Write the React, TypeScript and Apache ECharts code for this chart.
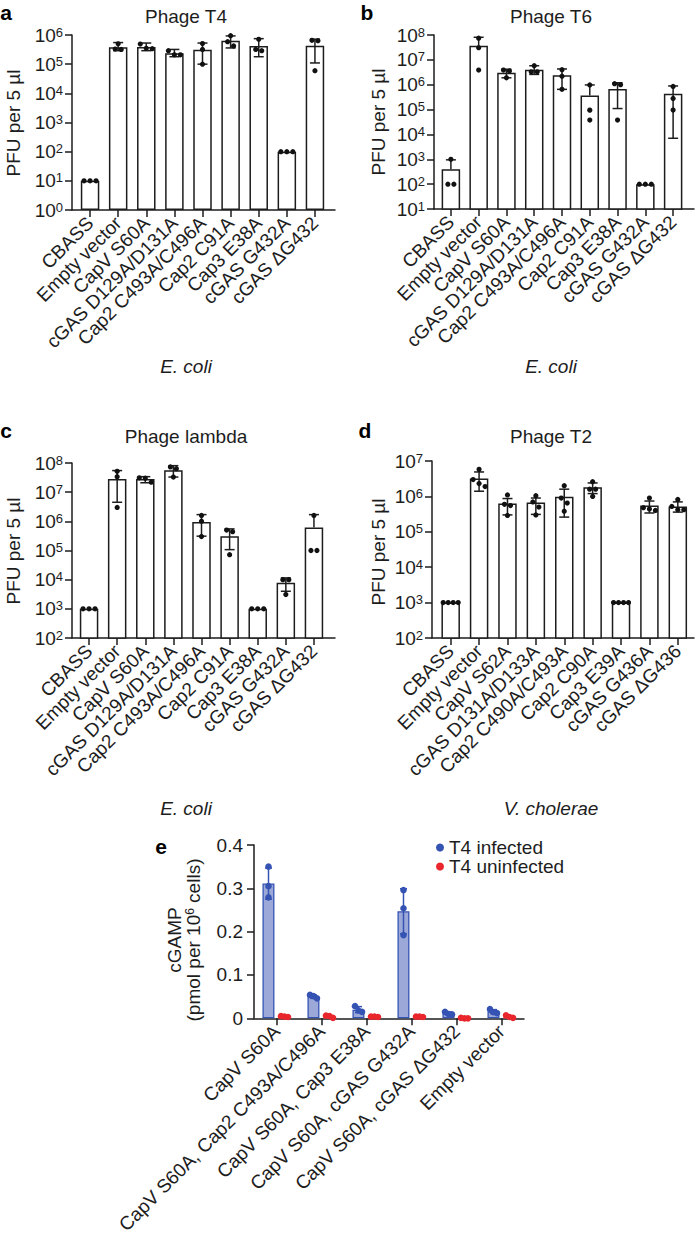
import React, { useEffect, useRef } from "react";
import * as echarts from "echarts";

const FONT = "'Liberation Sans', Arial, Helvetica, sans-serif";
const INK = "#1d1d1d";
const FS = 19;

// ---------------- Panel a : Phage T4, E. coli ----------------
const catsA = ["CBASS", "Empty vector", "CapV S60A", "cGAS D129A/D131A", "Cap2 C493A/C496A", "Cap2 C91A", "Cap3 E38A", "cGAS G432A", "cGAS \u0394G432"];
const meanA = [10, 3.8e5, 3.9e5, 2.35e5, 3.1e5, 6.4e5, 4.2e5, 100, 4.3e5];
const errHiA = [10, 5.5e5, 5.3e5, 3.2e5, 5.3e5, 9.3e5, 7.5e5, 100, 7.2e5];
const errLoA = [10, 2.9e5, 2.9e5, 1.8e5, 1.0e5, 3.6e5, 1.8e5, 100, 1.1e5];
const dotsA = [
  [10, 10, 10],
  [5.0e5, 3.2e5, 3.3e5],
  [4.9e5, 3.4e5, 3.5e5],
  [2.9e5, 2.1e5, 2.1e5],
  [5.1e5, 3.2e5, 1.0e5],
  [9.5e5, 5.9e5, 4.2e5],
  [7.1e5, 2.9e5, 3.2e5],
  [100, 100, 100],
  [6.4e5, 6.6e5, 6.0e4],
];

// ---------------- Panel b : Phage T6, E. coli ----------------
const catsB = catsA;
const meanB = [4.0e2, 3.7e7, 3.0e6, 4.0e6, 2.4e6, 3.7e5, 6.8e5, 100, 4.3e5];
const errHiB = [9.5e2, 8.1e7, 4.2e6, 5.8e6, 4.3e6, 9.8e5, 1.2e6, 100, 8.9e5];
const errLoB = [null, null, 1.9e6, 2.6e6, 6.5e5, null, 1.1e5, 100, 7.0e3];
const dotsB = [
  [1000, 100, 100],
  [7.4e7, 3.1e7, 3.9e6],
  [3.9e6, 3.6e6, 1.9e6],
  [5.8e6, 3.3e6, 3.3e6],
  [4.0e6, 2.2e6, 6.5e5],
  [9.8e5, 9.5e4, 3.8e4],
  [1.1e6, 1.0e6, 3.8e4],
  [100, 100, 100],
  [8.5e5, 2.8e5, 9.6e4],
];

// ---------------- Panel c : Phage lambda, E. coli ----------------
const catsC = catsA;
const meanC = [1000, 2.8e7, 2.8e7, 5.6e7, 9.5e5, 3.1e5, 1000, 7.8e3, 6.1e5];
const errHiC = [1000, 5.5e7, 3.4e7, 8.1e7, 1.7e6, 5.5e5, 1000, 1.15e4, 1.7e6];
const errLoC = [1000, 4.5e6, 2.1e7, 3.3e7, 3.1e5, 1.07e5, 1000, 4.0e3, null];
const dotsC = [
  [1000, 1000, 1000],
  [5.2e7, 3.4e7, 3.0e6],
  [3.1e7, 3.0e7, 2.2e7],
  [7.3e7, 6.4e7, 3.3e7],
  [1.6e6, 1.0e6, 3.0e5],
  [5.0e5, 4.4e5, 7.2e4],
  [1000, 1000, 1000],
  [1.0e4, 1.0e4, 3.1e3],
  [1.6e6, 1.0e5, 1.0e5],
];

// ---------------- Panel d : Phage T2, V. cholerae ----------------
const catsD = ["CBASS", "Empty vector", "CapV S62A", "cGAS D131A/D133A", "Cap2 C490A/C493A", "Cap2 C90A", "Cap3 E39A", "cGAS G436A", "cGAS \u0394G436"];
const meanD = [1000, 3.2e6, 6.3e5, 6.7e5, 9.7e5, 1.8e6, 1000, 5.5e5, 5.2e5];
const errHiD = [1000, 4.9e6, 8.7e5, 9.0e5, 1.6e6, 2.4e6, 1000, 7.4e5, 7.0e5];
const errLoD = [1000, 1.4e6, 3.0e5, 3.1e5, 2.6e5, 1.2e6, 1000, 3.4e5, 3.6e5];
const dotsD = [
  [1000, 1000, 1000, 1000],
  [5.8e6, 3.0e6, 2.3e6, 1.9e6],
  [1.1e6, 6.0e5, 5.5e5, 2.9e5],
  [1.05e6, 7.0e5, 5.0e5, 3.0e5],
  [2.0e6, 9.0e5, 6.5e5, 3.8e5],
  [2.6e6, 1.6e6, 1.6e6, 1.0e6],
  [1000, 1000, 1000, 1000],
  [9.0e5, 4.8e5, 4.4e5, 4.0e5],
  [8.2e5, 5.2e5, 4.2e5, 4.2e5],
];

// ---------------- Panel e : cGAMP ----------------
const catsE = ["CapV S60A", "CapV S60A, Cap2 C493A/C496A", "CapV S60A, Cap3 E38A", "CapV S60A, cGAS G432A", "CapV S60A, cGAS \u0394G432", "Empty vector"];
const infMean = [0.311, 0.05, 0.02, 0.247, 0.011, 0.016];
const infErrHi = [0.347, 0.054, 0.027, 0.299, 0.014, 0.02];
const infErrLo = [0.275, 0.046, 0.013, 0.195, 0.008, 0.011];
const infDots = [
  [0.35, 0.305, 0.279],
  [0.046, 0.054, 0.051],
  [0.015, 0.028, 0.018],
  [0.296, 0.254, 0.192],
  [0.015, 0.009, 0.01],
  [0.021, 0.012, 0.014],
];
const uninfMean = [0.004, 0.004, 0.004, 0.004, 0.0005, 0.004];
const uninfDots = [
  [0.003, 0.004, 0.005],
  [0.001, 0.005, 0.006],
  [0.004, 0.004, 0.003],
  [0.003, 0.004, 0.004],
  [0.0, 0.0, 0.001],
  [0.001, 0.007, 0.003],
];
const yTicksE = [0, 0.1, 0.2, 0.3, 0.4];

const BLUE = "#3553b3";
const BLUE_FILL = "#9ca9d8";
const RED = "#e8262c";

function jitter(ys: number[], thr: number, maxStep: number, span: number): number[] {
  const idx = ys.map((_, k) => k).sort((a, b) => ys[a] - ys[b]);
  const offs = new Array(ys.length).fill(0);
  let start = 0;
  for (let k = 1; k <= idx.length; k++) {
    if (k === idx.length || ys[idx[k]] - ys[idx[k - 1]] > thr) {
      const n = k - start;
      const step = n > 1 ? Math.min(maxStep, span / (n - 1)) : 0;
      for (let j = 0; j < n; j++) offs[idx[start + j]] = (j - (n - 1) / 2) * step;
      start = k;
    }
  }
  return offs;
}

function errSeries(xi: number, yi: number, means: number[], hi: (number | null)[], lo: (number | null)[], dx: number, halfCap: number, color: string, width: number) {
  return {
    type: "custom",
    xAxisIndex: xi,
    yAxisIndex: yi,
    z: 5,
    silent: true,
    data: means.map((m, i) => [i, m]),
    renderItem: (params: any, api: any) => {
      const i = params.dataIndex;
      const h = hi[i];
      const l = lo[i];
      const m = means[i];
      if (h == null || h === l) return { type: "group", children: [] };
      const pTop = api.coord([i, h]);
      const x = pTop[0] + dx;
      const yTop = pTop[1];
      const yMid = api.coord([i, m])[1];
      const yBot = l != null ? api.coord([i, l])[1] : yMid;
      const st = { stroke: color, lineWidth: width, fill: null };
      const ch: any[] = [
        { type: "line", shape: { x1: x, y1: yTop, x2: x, y2: yBot }, style: st },
        { type: "line", shape: { x1: x - halfCap, y1: yTop, x2: x + halfCap, y2: yTop }, style: st },
      ];
      if (l != null) ch.push({ type: "line", shape: { x1: x - halfCap, y1: yBot, x2: x + halfCap, y2: yBot }, style: st });
      return { type: "group", children: ch };
    },
  };
}

function dotSeries(xi: number, yi: number, dots: number[][], dx: number, r: number, color: string, maxStep: number, span: number, name?: string) {
  return {
    type: "custom",
    name,
    xAxisIndex: xi,
    yAxisIndex: yi,
    z: 6,
    silent: true,
    itemStyle: { color },
    data: dots.map((d, i) => [i, d[0]]),
    renderItem: (params: any, api: any) => {
      const i = params.dataIndex;
      const pts = dots[i].map((v) => api.coord([i, v]));
      const offs = jitter(pts.map((p: number[]) => p[1]), r * 2, maxStep, span);
      return {
        type: "group",
        children: pts.map((p: number[], k: number) => ({
          type: "circle",
          shape: { cx: p[0] + dx + offs[k], cy: p[1], r },
          style: { fill: color },
        })),
      };
    },
  };
}

type Layout = { left: number; top: number; width: number; height: number; yAxisX: number; axisEnd: number };

const layoutA: Layout = { left: 76, top: 35, width: 253, height: 175, yAxisX: 72, axisEnd: 335 };
const layoutB: Layout = { left: 437, top: 35, width: 250, height: 174, yAxisX: 434, axisEnd: 694 };
const layoutC: Layout = { left: 75, top: 463, width: 253, height: 175, yAxisX: 72, axisEnd: 335 };
const layoutD: Layout = { left: 436.5, top: 461, width: 255.5, height: 177, yAxisX: 432, axisEnd: 694 };

function buildOption() {
  const grid: any[] = [];
  const xAxis: any[] = [];
  const yAxis: any[] = [];
  const series: any[] = [];
  const lineStyle = { color: INK, width: 1.5 };

  const addLogPanel = (L: Layout, cats: string[], mean: number[], hi: any[], lo: any[], dots: number[][], min: number, max: number) => {
    const gi = grid.length;
    grid.push({ left: L.left, top: L.top, width: L.width, height: L.height });
    const xi = xAxis.length;
    xAxis.push({
      type: "category",
      gridIndex: gi,
      data: cats,
      boundaryGap: true,
      axisLine: { show: false },
      axisTick: { show: true, alignWithLabel: true, length: 7, lineStyle },
      axisLabel: { interval: 0, rotate: 45, margin: 10, fontSize: FS, fontFamily: FONT, color: INK },
    });
    const yi = yAxis.length;
    yAxis.push({
      type: "log",
      logBase: 10,
      gridIndex: gi,
      min,
      max,
      splitNumber: 10,
      offset: L.left - L.yAxisX,
      axisLine: { show: true, lineStyle },
      axisTick: { show: true, length: 7, lineStyle },
      minorTick: { show: false },
      splitLine: { show: false },
      axisLabel: {
        margin: 9,
        formatter: (v: number) => `{b|10}{s|${Math.round(Math.log10(v))}}`,
        rich: {
          b: { fontSize: FS, fontFamily: FONT, color: INK },
          s: { fontSize: 13, fontFamily: FONT, color: INK, verticalAlign: "top" },
        },
      },
    });
    series.push({
      type: "bar",
      xAxisIndex: xi,
      yAxisIndex: yi,
      data: mean,
      barWidth: 18.5,
      clip: true,
      silent: true,
      itemStyle: { color: "#ffffff", borderColor: INK, borderWidth: 1.5 },
      z: 2,
    });
    series.push(errSeries(xi, yi, mean, hi, lo, 0, 5, INK, 1.5));
    series.push(dotSeries(xi, yi, dots, 0, 2.6, "#111111", 6, 15));

    // axis line spanning from y axis to end
    const gj = grid.length;
    grid.push({ left: L.yAxisX, top: L.top, width: L.axisEnd - L.yAxisX, height: L.height });
    xAxis.push({
      type: "value",
      gridIndex: gj,
      min: 0,
      max: 1,
      axisLine: { show: true, onZero: false, lineStyle },
      axisTick: { show: false },
      axisLabel: { show: false },
      splitLine: { show: false },
    });
    yAxis.push({ type: "value", gridIndex: gj, min: 0, max: 1, show: false });
  };

  addLogPanel(layoutA, catsA, meanA, errHiA, errLoA, dotsA, 1, 1e6);
  addLogPanel(layoutB, catsB, meanB, errHiB, errLoB, dotsB, 10, 1e8);
  addLogPanel(layoutC, catsC, meanC, errHiC, errLoC, dotsC, 100, 1e8);
  addLogPanel(layoutD, catsD, meanD, errHiD, errLoD, dotsD, 100, 1e7);

  // panel e
  const ge = grid.length;
  grid.push({ left: 254, top: 845, width: 270, height: 173.3 });
  const xe = xAxis.length;
  xAxis.push({
    type: "category",
    gridIndex: ge,
    data: catsE,
    boundaryGap: true,
    axisLine: { show: true, lineStyle },
    axisTick: { show: true, alignWithLabel: true, length: 7, lineStyle },
    axisLabel: { interval: 0, rotate: 45, margin: 10, fontSize: FS, fontFamily: FONT, color: INK },
  });
  const ye = yAxis.length;
  yAxis.push({
    type: "value",
    gridIndex: ge,
    min: yTicksE[0],
    max: yTicksE[yTicksE.length - 1],
    interval: 0.1,
    axisLine: { show: true, lineStyle },
    axisTick: { show: true, length: 7, lineStyle },
    splitLine: { show: false },
    axisLabel: {
      margin: 11,
      fontSize: FS,
      fontFamily: FONT,
      color: INK,
      formatter: (v: number) => (v === 0 ? "0" : v.toFixed(1)),
    },
  });
  series.push({
    type: "bar",
    name: "infected mean",
    xAxisIndex: xe,
    yAxisIndex: ye,
    data: infMean,
    barWidth: 12,
    barGap: "34%",
    silent: true,
    itemStyle: { color: BLUE_FILL, borderColor: BLUE, borderWidth: 1.3 },
    z: 2,
  });
  series.push({
    type: "bar",
    name: "uninfected mean",
    xAxisIndex: xe,
    yAxisIndex: ye,
    data: uninfMean,
    barWidth: 12,
    barGap: "34%",
    silent: true,
    itemStyle: { color: "#f3a0a2", borderColor: RED, borderWidth: 1.3 },
    z: 2,
  });
  series.push(errSeries(xe, ye, infMean, infErrHi, infErrLo, -8, 3.5, BLUE, 1.5));
  series.push(dotSeries(xe, ye, infDots, -8, 3.3, BLUE, 3.5, 7, "T4 infected"));
  series.push(dotSeries(xe, ye, uninfDots, 8, 3.3, RED, 3.5, 7, "T4 uninfected"));

  const txt = (text: string, x: number, y: number, extra: any = {}, rotation = 0) => ({
    type: "text",
    x,
    y,
    rotation,
    silent: true,
    style: {
      text,
      fontSize: FS,
      fontFamily: FONT,
      fill: INK,
      align: "center",
      verticalAlign: "middle",
      ...extra,
    },
  });
  const bold = { fontWeight: "bold", fontSize: 21, fill: "#000" };
  const ital = { fontStyle: "italic" };

  const graphic = [
    txt("a", 6, 12, bold),
    txt("b", 367, 12, bold),
    txt("c", 6, 430, bold),
    txt("d", 365, 430, bold),
    txt("e", 161, 846, bold),
    txt("Phage T4", 186, 16),
    txt("Phage T6", 551, 16),
    txt("Phage lambda", 186, 436),
    txt("Phage T2", 551, 436),
    txt("E. coli", 186, 366, ital),
    txt("E. coli", 551, 366, ital),
    txt("E. coli", 186, 808, ital),
    txt("V. cholerae", 551, 808, ital),
    txt("PFU per 5 \u00b5l", 13, 123, {}, Math.PI / 2),
    txt("PFU per 5 \u00b5l", 378, 122, {}, Math.PI / 2),
    txt("PFU per 5 \u00b5l", 13, 551, {}, Math.PI / 2),
    txt("PFU per 5 \u00b5l", 378, 552, {}, Math.PI / 2),
    txt(
      "cGAMP\n(pmol per 10{s|6} cells)",
      184,
      940,
      {
        lineHeight: 19,
        rich: { s: { fontSize: 12, fontFamily: FONT, fill: INK, verticalAlign: "top", lineHeight: 19 } },
      },
      Math.PI / 2
    ),
  ];

  return {
    animation: false,
    backgroundColor: "#ffffff",
    grid,
    xAxis,
    yAxis,
    series,
    graphic,
    legend: {
      show: true,
      orient: "vertical",
      left: 431,
      top: 833,
      itemWidth: 8,
      itemHeight: 8,
      itemGap: 0,
      selectedMode: false,
      data: [
        { name: "T4 infected", icon: "circle", itemStyle: { color: BLUE } },
        { name: "T4 uninfected", icon: "circle", itemStyle: { color: RED } },
      ],
      textStyle: { fontSize: FS, fontFamily: FONT, color: INK, lineHeight: 19 },
    },
  };
}

export default function App() {
  const ref = useRef<HTMLDivElement>(null);
  useEffect(() => {
    if (!ref.current) return;
    const chart = echarts.init(ref.current, undefined, { renderer: "svg" });
    chart.setOption(buildOption() as any);
    return () => chart.dispose();
  }, []);
  return <div ref={ref} style={{ position: "absolute", left: 0, top: 0, width: 698, height: 1242, background: "#fff" }} />;
}
